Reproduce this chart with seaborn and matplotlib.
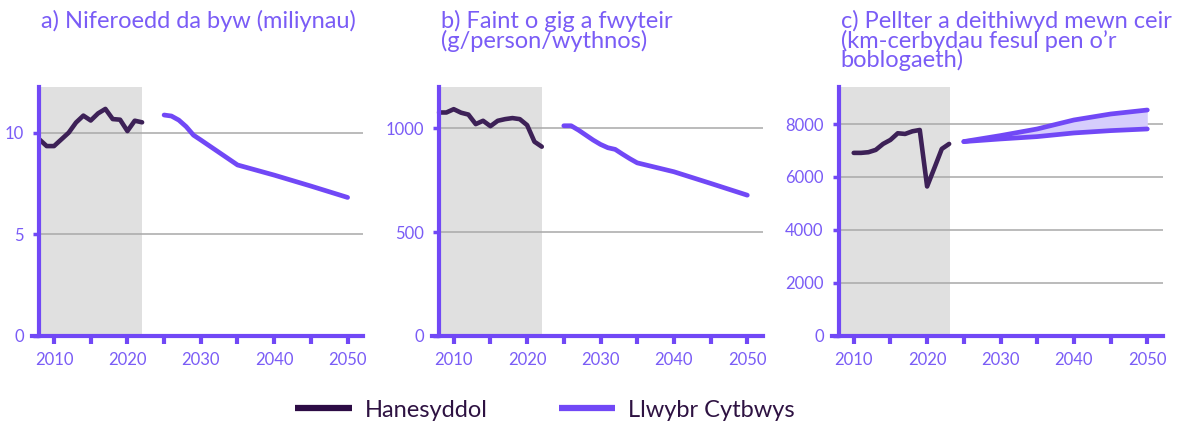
import matplotlib
matplotlib.use("Agg")
import matplotlib.pyplot as plt
from matplotlib.lines import Line2D
import numpy as np
import pandas as pd
import seaborn as sns

# ── Data ─────────────────────────────────────────────────────────────────
hist_years_ab = list(range(2008, 2023))
livestock_hist = [9.67, 9.34, 9.34, 9.67, 10.0, 10.5, 10.84, 10.6, 10.95,
                  11.17, 10.67, 10.64, 10.08, 10.59, 10.51]
meat_hist = [1077, 1077, 1093, 1076, 1067, 1021, 1037, 1011, 1037, 1045,
             1050, 1045, 1016, 936, 912]

proj_years_a = [2025, 2026, 2027, 2028, 2029, 2030, 2035, 2040, 2045, 2050]
livestock_proj = [10.87, 10.82, 10.62, 10.3, 9.88, 9.64, 8.41, 7.91, 7.37, 6.81]

proj_years_b = [2025, 2026, 2027, 2028, 2029, 2030, 2031, 2032, 2033, 2034,
                2035, 2040, 2045, 2050]
meat_proj = [1013, 1013, 992, 968, 944, 923, 907, 899, 876, 854, 834, 791,
             735, 678]

hist_years_c = list(range(2010, 2024))
car_hist = [6910, 6910, 6935, 7023, 7249, 7400, 7651, 7626, 7726, 7776,
            5641, 6344, 7060, 7249]
proj_years_c = [2025, 2030, 2035, 2040, 2045, 2050]
car_proj_upper = [7337, 7563, 7814, 8153, 8379, 8530]
car_proj_lower = [7337, 7437, 7525, 7663, 7751, 7814]

titles = ["a) Niferoedd da byw (miliynau)",
          "b) Faint o gig a fwyteir\n(g/person/wythnos)",
          "c) Pellter a deithiwyd mewn ceir\n(km-cerbydau fesul pen o\u2019r\nboblogaeth)"]
y_ticks = [[0, 5, 10], [0, 500, 1000], [0, 2000, 4000, 6000, 8000]]
y_tops = [12.25, 1200, 9400]
shade_end = [2022, 2022.05, 2023.15]
x_ticks = list(range(2010, 2051, 5))
x_tick_labels = ["2010", "", "2020", "", "2030", "", "2040", "", "2050"]
legend_labels = ["Hanesyddol", "Llwybr Cytbwys"]

# ── Style ────────────────────────────────────────────────────────────────
HIST = "#3d2157"
PROJ = "#7148f6"
BAND = "#d6cdfc"
TEXT = "#7a5cf6"
LEG_TEXT = "#2e1242"
SHADE = "#e0e0e0"
GRID = "#a8a8a8"

sns.set_style("white")
plt.rcParams["font.family"] = ["Lato", "DejaVu Sans"]

W, H = 1178, 423
fig = plt.figure(figsize=(W / 100, H / 100), dpi=100)

ax_lefts = [32, 431.7, 831.7]
ax_w = 331
ax_top, ax_bot = 87, 335.7
axes = [fig.add_axes([l / W, 1 - ax_bot / H, ax_w / W, (ax_bot - ax_top) / H])
        for l in ax_lefts]

hist_frames = [
    pd.DataFrame({"year": hist_years_ab, "value": livestock_hist}),
    pd.DataFrame({"year": hist_years_ab, "value": meat_hist}),
    pd.DataFrame({"year": hist_years_c, "value": car_hist}),
]
proj_frames = [
    [pd.DataFrame({"year": proj_years_a, "value": livestock_proj})],
    [pd.DataFrame({"year": proj_years_b, "value": meat_proj})],
    [pd.DataFrame({"year": proj_years_c, "value": car_proj_upper}),
     pd.DataFrame({"year": proj_years_c, "value": car_proj_lower})],
]

for i, ax in enumerate(axes):
    ax.set_xlim(2007, 2052.1)
    ax.set_ylim(0, y_tops[i])
    ax.axvspan(2008, shade_end[i], color=SHADE, lw=0, zorder=0)
    for yt in y_ticks[i][1:]:
        ax.plot([2008, 2052.1], [yt, yt], color=GRID, lw=1.1, zorder=1)

    if i == 2:
        ax.fill_between(proj_years_c, car_proj_lower, car_proj_upper,
                        color=BAND, lw=0, zorder=2)
    sns.lineplot(data=hist_frames[i], x="year", y="value", color=HIST,
                 lw=3.3, ax=ax, zorder=3)
    for df in proj_frames[i]:
        sns.lineplot(data=df, x="year", y="value", color=PROJ, lw=3.4,
                     ax=ax, zorder=3)

    ax.set_xlabel("")
    ax.set_ylabel("")
    for s in ["top", "right"]:
        ax.spines[s].set_visible(False)
    ax.spines["left"].set_position(("data", 2008))
    for s in ["left", "bottom"]:
        ax.spines[s].set_color(PROJ)
        ax.spines[s].set_linewidth(3)
        ax.spines[s].set_zorder(4)

    ax.set_xticks(x_ticks)
    ax.set_xticklabels(x_tick_labels)
    ax.set_yticks(y_ticks[i])
    ax.tick_params(axis="x", colors=PROJ, length=6, width=3, pad=6,
                   labelsize=12, labelcolor=TEXT, direction="out", bottom=True)
    ax.tick_params(axis="y", colors=PROJ, length=4, width=2.5, pad=7,
                   labelsize=12, labelcolor=TEXT, direction="out", left=True)

    fig.text((ax_lefts[i] + 9) / W, 1 - 10 / H, titles[i], color=TEXT,
             fontsize=17, ha="left", va="top", linespacing=0.86)

handles = [Line2D([], [], color="#2d0c45", lw=4.5, solid_capstyle="butt"),
           Line2D([], [], color=PROJ, lw=4.5, solid_capstyle="butt")]
fig.legend(handles, legend_labels, loc="center", ncol=2,
           bbox_to_anchor=(545 / W, 1 - 410 / H), frameon=False,
           fontsize=17, labelcolor=LEG_TEXT, handlelength=2.4,
           handletextpad=0.55, columnspacing=3.0)

plt.savefig("out.png", dpi=100)
plt.close()
